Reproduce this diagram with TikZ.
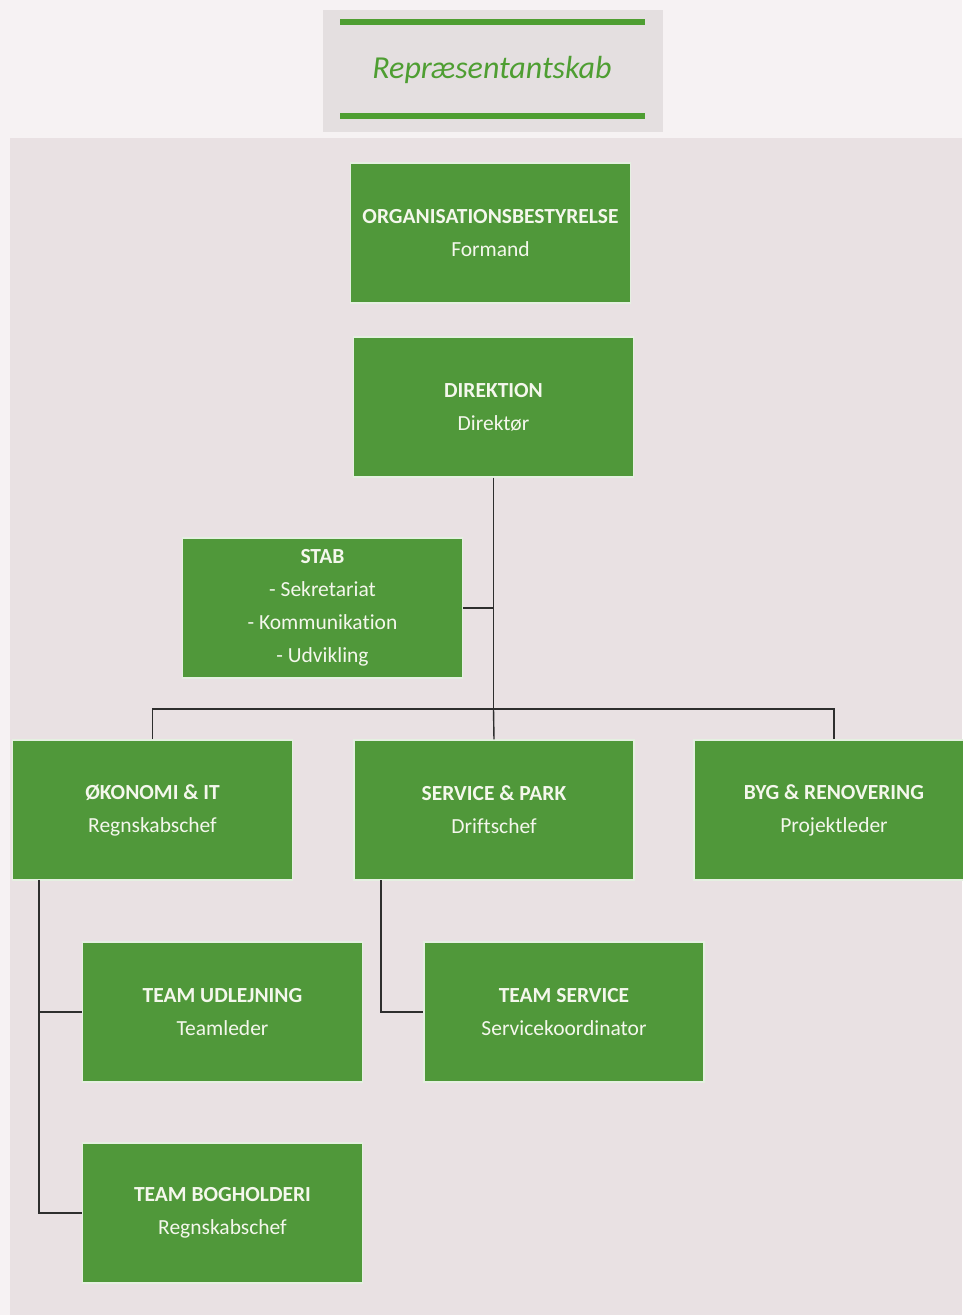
\documentclass[tikz,border=0pt]{standalone}
\usepackage{fontspec}
\setmainfont{Carlito}[Ligatures={NoCommon}]
\definecolor{page}{HTML}{F6F2F3}
\definecolor{panel}{HTML}{E9E1E3}
\definecolor{titlebg}{HTML}{E4DFE0}
\definecolor{boxgreen}{HTML}{50983A}
\definecolor{linegreen}{HTML}{4E9E32}
\definecolor{txt}{HTML}{F4F7EC}
\definecolor{conn}{HTML}{2E2E2E}
\tikzset{
  orgbox/.style={draw=white!85!boxgreen, line width=1.2pt, fill=boxgreen, text=txt,
    minimum width=280pt, minimum height=140pt, inner sep=0pt, align=center,
    font=\fontsize{21.5}{33}\selectfont},
  link/.style={draw=conn, line width=1.4pt}
}
\begin{document}
\begin{tikzpicture}[x=1pt,y=-1pt]
\useasboundingbox (0,0) rectangle (962,1315);
\fill[page] (0,0) rectangle (962,1315);
% title block
\fill[titlebg] (323,10) rectangle (663,132);
\fill[linegreen] (340,19) rectangle (645,25);
\fill[linegreen] (340,113) rectangle (645,119);
\node[text=linegreen, font=\fontsize{32}{34}\selectfont\itshape] (rep) at (492,70) {Repræsentantskab};
% panel
\fill[panel] (10,138) rectangle (962,1315);
% boxes
\node[orgbox] (org) at (490.5,233) {\textbf{ORGANISATIONSBESTYRELSE}\\Formand};
\node[orgbox] (dir) at (493.5,407) {\textbf{DIREKTION}\\Direktør};
\node[orgbox] (stab) at (322.5,608) {\textbf{STAB}\\- Sekretariat\\- Kommunikation\\- Udvikling};
\node[orgbox] (oek) at (152.5,810) {\textbf{ØKONOMI \& IT}\\Regnskabschef};
\node[orgbox] (svc) at (494,810) {\textbf{SERVICE \& PARK}\\Driftschef};
\node[orgbox] (byg) at (834,810) {\textbf{BYG \& RENOVERING}\\Projektleder};
\node[orgbox] (tud) at (222.5,1012) {\textbf{TEAM UDLEJNING}\\Teamleder};
\node[orgbox] (tsv) at (564,1012) {\textbf{TEAM SERVICE}\\Servicekoordinator};
\node[orgbox] (tbg) at (222.5,1213) {\textbf{TEAM BOGHOLDERI}\\Regnskabschef};
% connectors
\coordinate (j) at (493.5,709);
\draw[link] (dir.south) -- (j);
\draw[link] (j) -- (svc.north);
\draw[link] (stab.east) -- (stab.east -| j);
\draw[link] (oek.north) |- (j) -| (byg.north);
\coordinate (oekdrop) at (39,880);
\coordinate (svcdrop) at (381,880);
\draw[link] (oekdrop) |- (tbg.west);
\draw[link] (oekdrop |- tud.west) -- (tud.west);
\draw[link] (svcdrop) |- (tsv.west);
\end{tikzpicture}
\end{document}
